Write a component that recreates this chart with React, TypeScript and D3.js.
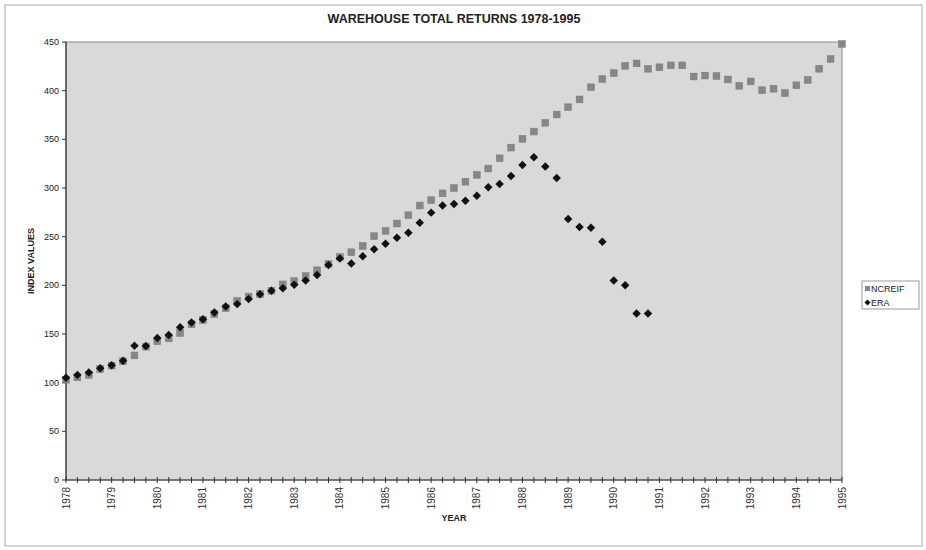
import React from 'react';
import * as d3 from 'd3';

// Quarterly index values, 1978 Q1 onward
const ncreif = [
  103, 105.5, 108, 114, 117.5, 122, 128, 137, 142.5, 145.5, 151, 160, 164.5, 170.5, 176.5, 184,
  188.5, 191, 194.5, 201, 204.5, 209.5, 215.5, 222, 229, 234, 240.5, 250.5, 256, 263.5, 272, 282,
  287.5, 294.5, 300, 306.5, 313.5, 320, 330.5, 341.5, 350.5, 358, 367, 375.5, 383, 391, 403.5, 412,
  418, 425.5, 428, 422.5, 424, 426, 426, 414.5, 415.5, 415, 411.5, 405, 409.5, 400.5, 402, 397.5,
  405.5, 411, 422.5, 432.5, 448,
];

const era = [
  105, 108, 110.5, 114.8, 118, 122.5, 138, 137.7, 146, 149, 157, 161.7, 165.2, 172, 178.3, 180.7,
  186, 190.8, 194.5, 197, 200.5, 205, 210.6, 220.9, 227.6, 222.5, 229.8, 237, 242.8, 249, 254, 264.4,
  274.7, 282, 283.6, 287, 292, 300.7, 304, 312.3, 323.6, 331.5, 322, 310.3, 268.2, 260, 259.2, 244.8,
  205, 200, 171, 171,
];

const yearLabels = [
  '1978', '1979', '1980', '1981', '1982', '1983', '1984', '1985', '1986',
  '1987', '1988', '1989', '1990', '1991', '1992', '1993', '1994', '1995',
];

const yTicks = [0, 50, 100, 150, 200, 250, 300, 350, 400, 450];

const W = 926;
const H = 550;
const plot = { left: 66, right: 842, top: 42, bottom: 480 };
const FONT = 'Liberation Sans, Arial, sans-serif';

export default function App() {
  const x = d3.scaleLinear().domain([0, ncreif.length - 1]).range([plot.left, plot.right]);
  const y = d3.scaleLinear().domain([0, 450]).range([plot.bottom, plot.top]);
  const quarterIdx = d3.range(ncreif.length);
  // diamonds drawn as squares turned 45 degrees
  const diamond = d3.symbol().type(d3.symbolSquare).size(36)();
  const legendDiamond = d3.symbol().type(d3.symbolSquare).size(18)();
  const midX = (plot.left + plot.right) / 2;

  return (
    <svg
      width={W}
      height={H}
      style={{ position: 'absolute', left: 0, top: 0, background: '#fff' }}
      fontFamily={FONT}
    >
      <rect x={5} y={5} width={917} height={541} fill="#fff" stroke="#a8a8a8" strokeWidth={1} />

      <text x={midX} y={23} textAnchor="middle" fontSize={12.5} fontWeight="bold" fill="#222">
        WAREHOUSE TOTAL RETURNS 1978-1995
      </text>

      {/* plot area */}
      <rect
        x={plot.left}
        y={plot.top}
        width={plot.right - plot.left}
        height={plot.bottom - plot.top}
        fill="#d9d9d9"
        stroke="#8c8c8c"
        strokeWidth={1}
      />

      {/* y axis */}
      <line x1={plot.left} x2={plot.left} y1={plot.top} y2={plot.bottom} stroke="#333" strokeWidth={1.2} />
      {yTicks.map((t) => (
        <g key={t}>
          <line x1={plot.left - 4} x2={plot.left} y1={y(t)} y2={y(t)} stroke="#333" />
          <text x={plot.left - 7} y={y(t) + 3} textAnchor="end" fontSize={9} fill="#222">
            {t}
          </text>
        </g>
      ))}
      <text
        transform={`translate(34, ${(plot.top + plot.bottom) / 2}) rotate(-90)`}
        textAnchor="middle"
        fontSize={9}
        fontWeight="bold"
        fill="#222"
      >
        INDEX VALUES
      </text>

      {/* x axis */}
      <line x1={plot.left} x2={plot.right} y1={plot.bottom} y2={plot.bottom} stroke="#333" strokeWidth={1.2} />
      {quarterIdx.map((i) => (
        <line key={i} x1={x(i)} x2={x(i)} y1={plot.bottom - 3} y2={plot.bottom + 3} stroke="#333" />
      ))}
      {yearLabels.map((lab, k) => (
        <text
          key={lab}
          transform={`translate(${x(k * 4) + 3.5}, ${plot.bottom + 7}) rotate(-90)`}
          textAnchor="end"
          fontSize={10}
          fill="#333"
        >
          {lab}
        </text>
      ))}
      <text x={midX} y={521} textAnchor="middle" fontSize={9} fontWeight="bold" fill="#222">
        YEAR
      </text>

      {/* series */}
      {ncreif.map((v, i) => (
        <rect key={`n${i}`} x={x(i) - 3.4} y={y(v) - 3.4} width={6.8} height={6.8} fill="#878787" stroke="#7a7a7a" strokeWidth={0.5} />
      ))}
      {era.map((v, i) => (
        <path key={`e${i}`} d={diamond} transform={`translate(${x(i)}, ${y(v)}) rotate(45)`} fill="#111" />
      ))}

      {/* legend */}
      <g transform="translate(862, 281)">
        <rect x={0} y={0} width={57} height={28} fill="#fff" stroke="#999" strokeWidth={1} />
        <rect x={3} y={5} width={5} height={5} fill="#878787" />
        <text x={9} y={11} fontSize={9} fill="#222">NCREIF</text>
        <path d={legendDiamond} transform="translate(5.5, 21.5) rotate(45)" fill="#111" />
        <text x={9} y={25} fontSize={9} fill="#222">ERA</text>
      </g>
    </svg>
  );
}
